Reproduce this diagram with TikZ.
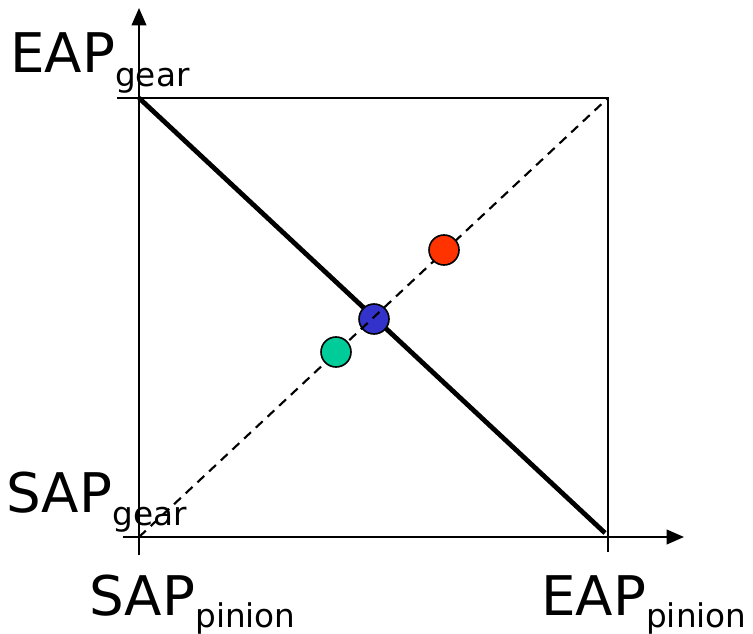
\documentclass[tikz,border=0pt]{standalone}
\usepackage{fontspec}
\setmainfont{DejaVu Sans}
\usetikzlibrary{arrows.meta}
\newcommand{\aplabel}[3]{\fontsize{41}{41}\selectfont #1\raisebox{-#3}{\fontsize{24.5}{24.5}\selectfont #2}}
\definecolor{dotred}{HTML}{FF3300}
\definecolor{dotblue}{HTML}{3333CC}
\definecolor{dotgreen}{HTML}{00CC99}

\begin{document}
\begin{tikzpicture}[
  x=0.75pt,y=-0.75pt,
  axis/.style={line width=1.3pt,-{Triangle[length=13pt,width=11pt]}},
  frame/.style={line width=1.3pt},
  action/.style={line width=3.6pt},
  ratio/.style={line width=1.6pt,dash pattern=on 7pt off 5pt},
  dot/.style={circle,draw,line width=1.2pt,minimum size=22.5pt,inner sep=0pt},
  lbl/.style={anchor=base west,inner sep=0pt}
]
\useasboundingbox (0,0) rectangle (753,634);
% corners of the contact box
\coordinate (sgsp) at (139,537);
\coordinate (egsp) at (139,98);
\coordinate (egep) at (608,98);
\coordinate (sgep) at (608,537);
% axes with their overshoot
\coordinate (ybot) at (139,555);
\coordinate (ytop) at (139,8);
\coordinate (xleft) at (123,537);
\coordinate (xright) at (684,537);
\coordinate (topleft) at (117,98);
\coordinate (rtick) at (608,552);
\draw[axis] (ybot) -- (ytop);
\draw[axis] (xleft) -- (xright);
\draw[frame] (topleft) -- (egep) -- (rtick);
% line of action
\draw[action] (egsp) -- (605,533);
\node[dot,fill=dotblue] (pitch) at (374,319) {};
\draw[ratio] (sgsp) -- (egep);
\node[dot,fill=dotgreen] (low) at (336,352) {};
\node[dot,fill=dotred] (high) at (444,250) {};
% labels
\node[lbl] (eapgear) at (10,73) {\aplabel{EAP}{gear}{10.5pt}};
\node[lbl] (sapgear) at (6,512) {\aplabel{SAP}{gear}{10pt}};
\node[lbl] (sappinion) at (89,615) {\aplabel{SAP}{pinion}{9pt}};
\node[lbl] (eappinion) at (541,615) {\aplabel{EAP}{pinion}{9pt}};
\end{tikzpicture}
\end{document}
